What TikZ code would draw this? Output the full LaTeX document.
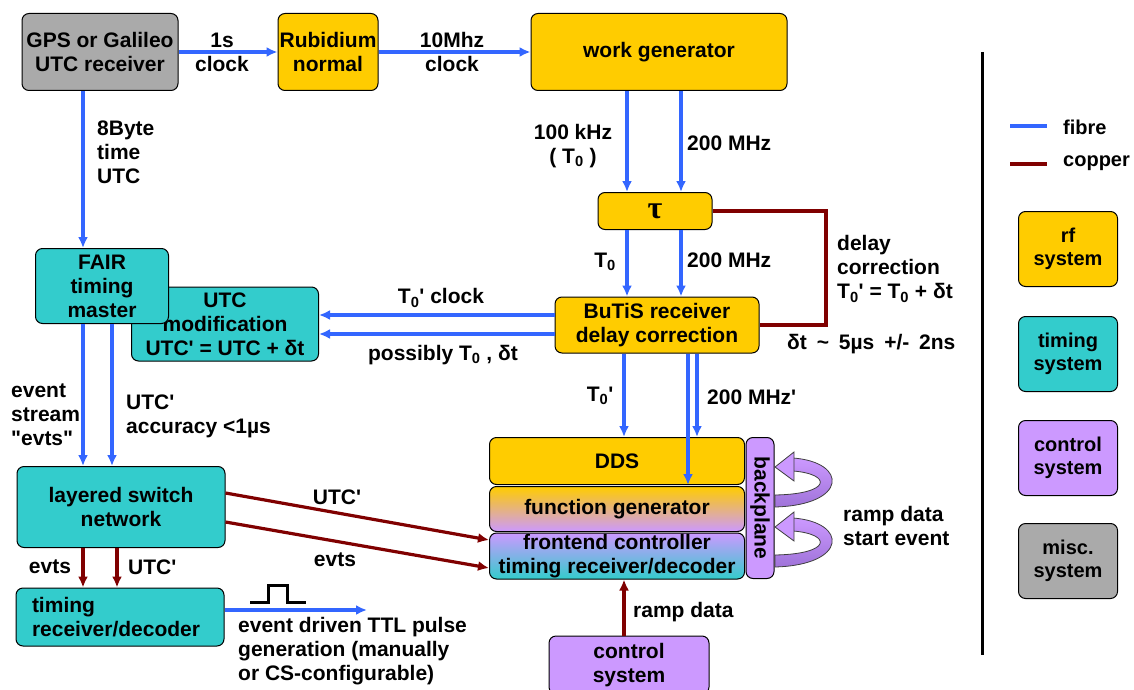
\documentclass[tikz,border=0pt]{standalone}
\usepackage{fontspec}
\setmainfont{Liberation Sans}
\newfontfamily\serifface{Liberation Serif}
\usetikzlibrary{calc, arrows.meta, positioning}
\definecolor{rfyellow}{HTML}{FFCC00}
\definecolor{timingteal}{HTML}{33CCCC}
\definecolor{ctrllilac}{HTML}{CC99FF}
\definecolor{ctrldark}{HTML}{9F73D9}
\definecolor{miscgray}{HTML}{AAAAAA}
\definecolor{fibreblue}{HTML}{3366FF}
\definecolor{copperred}{HTML}{800000}
\newcommand{\tick}{\textquotesingle}
\newcommand{\Tnull}{T\textsubscript{0}}
\newcommand{\bigtau}{{\serifface\fontsize{32}{32}\selectfont τ}}
\tikzset{
    every node/.style = {font=\fontsize{21}{24}\selectfont\bfseries},
    boxnode/.style = {draw, rectangle, rounded corners=7pt, line width=1pt, inner sep=0pt, align=center},
    rfnode/.style = {boxnode, fill=rfyellow},
    timingnode/.style = {boxnode, fill=timingteal},
    ctrlnode/.style = {boxnode, fill=ctrllilac},
    miscnode/.style = {boxnode, fill=miscgray},
    legendnode/.style = {minimum width=99, minimum height=75, font=\fontsize{20}{23}\selectfont\bfseries},
    textnode/.style = {draw=none, fill=none, rectangle, inner sep=0pt, align=center},
    fibre/.style = {fibreblue, line width=3.2pt, -{Latex[length=11pt,width=10pt]}},
    copper/.style = {copperred, line width=3.2pt, -{Latex[length=11pt,width=10pt]}}
}

\begin{document}
\begin{tikzpicture}[x=1pt, y=-1pt]
\useasboundingbox[fill=white] (0,0) rectangle (1134,690);

% top row
\node [miscnode, name=gps, minimum width=156, minimum height=77] at (100,52) {GPS or Galileo\\UTC receiver};
\node [rfnode, name=rb, minimum width=100, minimum height=77] at (328,52) {Rubidium\\normal};
\node [rfnode, name=wg, minimum width=256, minimum height=77] at (659,52) {work generator};
\node [rfnode, name=tau, minimum width=114, minimum height=37] at (655,211) {\bigtau};
\node [rfnode, name=butis, minimum width=204, minimum height=56] at (657,325) {BuTiS receiver\\delay correction};

% timing side
\node [timingnode, name=utcmod, minimum width=187, minimum height=74] at (225,324) {UTC\\modification\\UTC\tick{} = UTC + δt};
\node [timingnode, name=fair, minimum width=133, minimum height=75] at (102,286) {FAIR\\timing\\master};
\node [timingnode, name=layered, minimum width=208, minimum height=81] at (121,507) {layered switch\\network};
\node [timingnode, name=trd, minimum width=208, minimum height=58, text width=176, align=left] at (120,617) {timing\\receiver/decoder};

% crate
\node [rfnode, name=dds, minimum width=255, minimum height=47] at (617,461) {DDS};
\node [boxnode, name=fg, top color=rfyellow, bottom color=ctrllilac, minimum width=255, minimum height=45] at (617,509) {function generator};
\node [boxnode, name=fec, top color=ctrllilac, bottom color=timingteal, minimum width=255, minimum height=46] at (617,556) {frontend controller\\timing receiver/decoder};
\node [ctrlnode, name=bp, rotate=-90, minimum width=141, minimum height=28] at (760,508) {backplane};
\node [ctrlnode, name=ctrl, minimum width=160, minimum height=58] at (629,665) {control\\system};

\foreach \dy in {0,60} {
  \begin{scope}[shift={(0,\dy)}]
    \path [top color=ctrllilac, middle color=ctrllilac, bottom color=ctrldark, draw=black!75, line width=0.8pt]
      (793,458) .. controls (848,462) and (848,505) .. (775,507) -- (775,495)
      .. controls (832,494) and (832,474) .. (793,471) -- cycle;
    \filldraw [fill=ctrllilac, draw=black!75, line width=0.8pt] (775,467) -- (794,452) -- (794,481) -- cycle;
  \end{scope}
}

% columns and rows for parallel lines
\coordinate (cA) at (627,0);
\coordinate (cB) at (681,0);
\coordinate (cC) at (624,0);
\coordinate (cD) at (688,0);
\coordinate (cE) at (697,0);
\coordinate (cF) at (83,0);
\coordinate (cG) at (112,0);
\coordinate (cH) at (117,0);
\coordinate (rA) at (0,315);
\coordinate (rB) at (0,334);
\coordinate (bend) at (826,325);
\coordinate (ttlend) at (367,610);

\draw[fibre] (gps.east) -- (rb.west);
\draw[fibre] (rb.east) -- (wg.west);
\draw[fibre] (wg.south -| cA) -- (tau.north -| cA);
\draw[fibre] (wg.south -| cB) -- (tau.north -| cB);
\draw[fibre] (tau.south -| cA) -- (butis.north -| cA);
\draw[fibre] (tau.south -| cB) -- (butis.north -| cB);
\draw[copperred, line width=3.2pt] (tau.east) -| (bend) -- (butis.east);
\draw[fibre] (butis.west |- rA) -- (utcmod.east |- rA);
\draw[fibre] (butis.west |- rB) -- (utcmod.east |- rB);
\draw[fibre] (gps.south -| cF) -- (fair.north -| cF);
\draw[fibre] (fair.south -| cF) -- (layered.north -| cF);
\draw[fibre] (fair.south -| cG) -- (layered.north -| cG);
\draw[fibre] (butis.south -| cC) -- (dds.north -| cC);
\draw[fibre] (butis.south -| cD) -- (dds.south -| cD);
\draw[fibre] (butis.south -| cE) -- (dds.north -| cE);
\draw[copper] ($(layered.east)+(0,-14)$) -- ($(fec.west)+(0,-16)$);
\draw[copper] ($(layered.east)+(0,15)$) -- ($(fec.west)+(0,12)$);
\draw[copper] (layered.south -| cF) -- (trd.north -| cF);
\draw[copper] (layered.south -| cH) -- (trd.north -| cH);
\draw[copper] (ctrl.north -| cC) -- (fec.south -| cC);
\draw[fibre] (trd.east |- ttlend) -- (ttlend);
\draw[black, line width=3pt] (250,602) -- (268,602) -- (268,585) -- (287,585) -- (287,602) -- (306,602);

% labels
\node [textnode, name=lblclockA] at (222,52) {1s\\clock};
\node [textnode, name=lblclockB] at (452,52) {10Mhz\\clock};
\node [textnode, name=lblbyte, anchor=west, align=left] at (97,152) {8Byte\\time\\UTC};
\node [textnode, name=lblkhz] at (573,146) {100 kHz\\( \Tnull\ )};
\node [textnode, name=lblmhzA, anchor=west] at (687,143) {200 MHz};
\node [textnode, name=lblT] at (605,262) {\Tnull};
\node [textnode, name=lblmhzB, anchor=west] at (687,260) {200 MHz};
\node [textnode, name=lbldelay, anchor=west, align=left] at (837,269) {delay\\correction\\\Tnull\tick{} = \Tnull{} + δt};
\node [textnode, name=lbldt, anchor=west] at (787,344) {\spaceskip=0.47em δt \textasciitilde{} 5µs +/- 2ns};
\node [textnode, name=lblclockT] at (441,298) {\Tnull\tick{} clock};
\node [textnode, name=lblposs] at (443,355) {possibly \Tnull{} , δt};
\node [textnode, name=lblstream, anchor=west, align=left] at (11,415) {event\\stream\\\textquotedbl evts\textquotedbl};
\node [textnode, name=lblacc, anchor=west, align=left] at (126,416) {UTC\tick\\accuracy <1µs};
\node [textnode, name=lblTp] at (600,396) {\Tnull\tick};
\node [textnode, name=lblmhzC, anchor=west] at (707,397) {200 MHz\tick};
\node [textnode, name=lblutcA] at (337,497) {UTC\tick};
\node [textnode, name=lblevtsA] at (335,560) {evts};
\node [textnode, name=lblevtsB] at (50,567) {evts};
\node [textnode, name=lblutcB, anchor=west] at (128,567) {UTC\tick};
\node [textnode, name=lblrampA, anchor=west] at (633,612) {ramp data};
\node [textnode, name=lblrampB, anchor=west, align=left] at (843,526) {ramp data\\start event};
\node [textnode, name=lblttl, anchor=west, align=left] at (238,651) {event driven TTL pulse\\generation (manually\\or CS-configurable)};

% legend
\draw[black, line width=3pt] (982,52) -- (982,655);
\draw[fibreblue, line width=3.2pt] (1010,126) -- (1047,126);
\draw[copperred, line width=3.2pt] (1010,164) -- (1047,164);
\node [textnode, name=legfibre, anchor=west, font=\fontsize{20}{23}\selectfont\bfseries] at (1063,127) {fibre};
\node [textnode, name=legcopper, anchor=west, font=\fontsize{20}{23}\selectfont\bfseries] at (1063,163) {copper};
\node [rfnode, legendnode, name=legrf] at (1068,249) {rf\\system};
\node [timingnode, legendnode, name=legtiming] at (1068,354) {timing\\system};
\node [ctrlnode, legendnode, name=legctrl] at (1068,458) {control\\system};
\node [miscnode, legendnode, name=legmisc] at (1068,561) {misc.\\system};

\end{tikzpicture}
\end{document}
